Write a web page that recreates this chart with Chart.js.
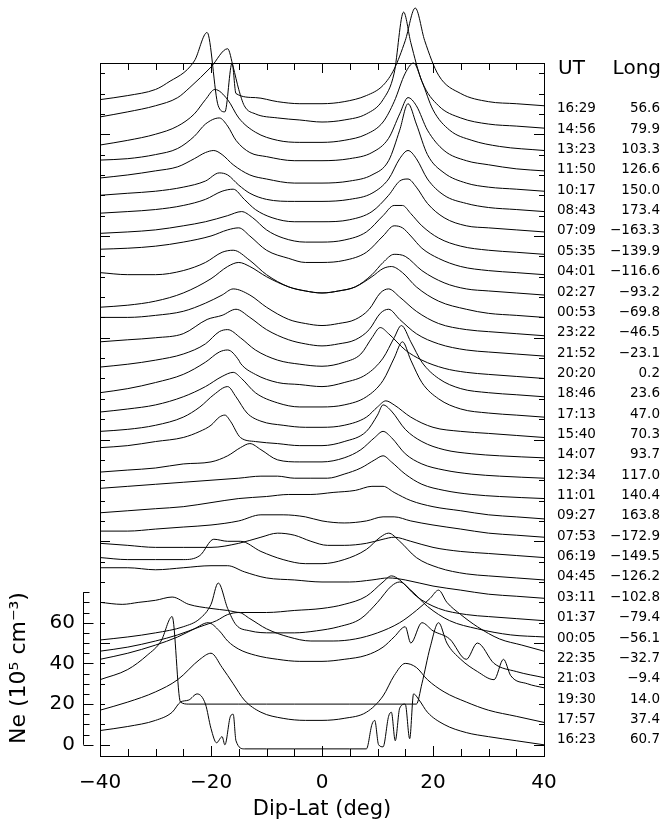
<!DOCTYPE html>
<html>
<head>
<meta charset="utf-8">
<script src="https://cdn.jsdelivr.net/npm/chart.js@4.4.1/dist/chart.umd.min.js"></script>
<style>
  html, body { margin: 0; padding: 0; background: #fff; }
  #wrap { width: 663px; height: 820px; }
</style>
</head>
<body>
<div id="wrap"><canvas id="chart" width="663" height="820"></canvas></div>
<script>
// Pass times and longitudes, bottom profile first
const utLabels = ['16:23', '17:57', '19:30', '21:03', '22:35', '00:05', '01:37', '03:11',
  '04:45', '06:19', '07:53', '09:27', '11:01', '12:34', '14:07', '15:40', '17:13', '18:46',
  '20:20', '21:52', '23:22', '00:53', '02:27', '04:01', '05:35', '07:09', '08:43', '10:17',
  '11:50', '13:23', '14:56', '16:29'];
const longLabels = ['60.7', '37.4', '14.0', '−9.4', '−32.7', '−56.1', '−79.4', '−102.8',
  '−126.2', '−149.5', '−172.9', '163.8', '140.4', '117.0', '93.7', '70.3', '47.0', '23.6',
  '0.2', '−23.1', '−46.5', '−69.8', '−93.2', '−116.6', '−139.9', '−163.3', '173.4', '150.0',
  '126.6', '103.3', '79.9', '56.6'];
const rowStep = 10;            // each profile is shifted up by 10 x 10^5 cm^-3
const neTicks = [0, 20, 40, 60];

// Ne profiles [dip-lat, Ne] (10^5 cm^-3)
const p1623 = [[-40,7],[-35,9],[-30,12],[-27,16],[-25.5,21],[-24,22],[-22.5,25],[-21,20],[-20,8],[-19,1],[-18,4],[-17.5,0],[-16.5,14],[-16,15],[-15.5,2],[-14,-2],[-10,-2],[-5,-2],[0,-2],[5,-2],[8,-2],[9,10],[9.5,12],[10.2,0],[11,-1],[12,14],[12.5,16],[13.2,2],[14,18],[15,20],[15.8,3],[16.5,25],[17.5,22],[19,16],[22,10],[26,6],[30,4],[35,2],[40,0]];
const p1757 = [[-40,7],[-35,11],[-30,16],[-26,22],[-22,32],[-20,35],[-18,28],[-16,20],[-14,12],[-11,6],[-7,3],[-3,2],[0,2],[4,3],[8,6],[11,14],[13,24],[15,30],[17,28],[19,22],[22,16],[26,11],[30,7],[35,4],[40,1]];
const p1930 = [[-40,12],[-35,17],[-31.5,24],[-29,31],[-27,43],[-25.5,1],[-24,0],[-20,0],[-15,0],[-10,0],[-5,0],[0,0],[5,0],[10,0],[15,0],[17,0],[18,10],[19.5,28],[21,40],[22.5,30],[25,22],[28,16],[31,12],[32.7,22],[34,14],[37,10],[40,8]];
const p2103 = [[-40,12],[-35,15],[-30,19],[-26,23],[-23,27],[-20.5,30],[-18.5,26],[-17,21],[-15,17],[-12,14],[-8,12],[-4,11],[0,11],[4,12],[8,14],[11,18],[13,23],[15,28],[16,20],[18,30],[20,26],[23,22],[26,12],[28,20],[31,10],[35,6],[40,3]];
const p2235 = [[-40,6],[-35,8],[-30,11],[-26,14],[-22,18],[-19,21],[-17,24],[-15,25],[-13,22],[-10,17],[-6,13],[-2,11],[2,11],[6,12],[10,15],[14,20],[17,26],[19.5,32],[21,36],[22.5,30],[25,24],[28,18],[32,12],[36,9],[40,6]];
const p0005 = [[-40,1.5],[-35,3],[-30,5],[-25,8],[-22,12],[-20,19],[-18.7,29.5],[-17,17],[-15.5,9],[-13,6],[-9,5],[-5,5],[-1,6],[3,8],[7,12],[10,20],[12.5,28],[14,30],[16,26],[19,18],[23,11],[28,7],[34,4],[40,3]];
const p0137 = [[-40,10],[-36,9],[-33,10],[-30,11],[-27,12.6],[-24,9],[-20,7],[-17,6],[-14.7,5],[-10,5],[-5,6],[0,7],[4,9],[8,13],[11,20],[12.5,23],[14,21],[17,13],[21,7],[26,4],[30,3],[35,2],[40,1]];
const p0311 = [[-40,17],[-35,17],[-30,16],[-25,17],[-20,18],[-17,18],[-14,15],[-10,12],[-5,11],[0,10],[5,10],[9,11],[12,12],[15,11],[20,8],[25,6],[30,4],[35,3],[40,2]];
const p0445 = [[-40,12],[-35,11],[-30,11],[-25,11],[-22,13],[-19.5,21],[-17,20],[-14.7,20],[-11,15],[-7,11],[-3,9],[0,9],[4,11],[8,16],[10.5,22],[12,24],[14,20],[17,12],[21,7],[26,4],[30,3],[35,2],[40,1]];
const p0619 = [[-40,9],[-35,8],[-30,7],[-25,7],[-20,7],[-15,9],[-11,12],[-8,14],[-5,13],[-2,10],[1,8],[4,8],[8,9],[11,11],[13,12],[16,10],[20,7],[25,5],[30,4],[35,3],[40,2]];
const p0753 = [[-40,5],[-35,5],[-30,6],[-25,7],[-20,8],[-15,10],[-11,13],[-7,13],[-3,12],[0,10],[4,9],[8,10],[11,12],[13,12],[16,10],[20,8],[25,6],[30,4],[35,3],[40,2]];
const p0927 = [[-40,4],[-35,5],[-30,6],[-25,7],[-20,9],[-15,11],[-10,12],[-6,13],[-2,13],[2,14],[6,15],[9,17],[11,17],[13,14],[16,10],[20,7],[25,5],[30,3],[35,2],[40,1]];
const p1101 = [[-40,6],[-35,7],[-30,8],[-25,9],[-20,10],[-15,11],[-11,12],[-8,12],[-5,11],[-2,11],[1,11],[4,13],[7,16],[9.5,20],[11,22],[12.5,19],[15,13],[18,8],[22,5],[27,3],[32,2],[40,1]];
const p1234 = [[-40,4],[-35,5],[-30,6],[-25,8],[-20,9],[-17,12],[-14.7,16],[-13,18],[-11,15],[-8,10],[-4,9],[0,9],[4,11],[7,15],[9.5,21],[11,24],[12.5,21],[15,13],[18,8],[22,5],[27,3],[32,2],[40,1]];
const p1407 = [[-40,6],[-35,7],[-30,9],[-25,11],[-22,14],[-20,17],[-18.5,21],[-17.5,22],[-16.5,19],[-14.7,11],[-12,9],[-8,8],[-4,7],[0,7],[4,9],[8,14],[10,22],[11,27],[12.5,24],[15,15],[18,9],[22,5],[27,3],[32,2],[40,1]];
const p1540 = [[-40,4],[-35,5],[-30,7],[-25,11],[-22,16],[-19.5,22],[-17,26],[-15.5,21],[-13.5,13],[-11,9],[-7,7],[-3,6],[0,6],[4,7],[8,11],[10,16],[11.5,19],[13,17],[16,11],[20,6],[25,4],[30,3],[35,2],[40,1]];
const p1713 = [[-40,3.5],[-35,5],[-30,7],[-25,11],[-21,16],[-18,21],[-16,23],[-14.5,20],[-12,13],[-8,8],[-4,6],[0,6],[4,7],[8,11],[11,19],[13,30],[14.5,38],[16,29],[18,18],[21,10],[25,5],[30,3],[35,2],[40,1]];
const p1846 = [[-40,3],[-35,5],[-30,8],[-25,12],[-21,18],[-18.5,23],[-17,24],[-15,19],[-14.7,17.5],[-12,12],[-8,8],[-4,7],[0,6],[4,8],[8,12],[11,20],[13,30],[14.3,36],[16,28],[18,18],[21,10],[25,5],[30,3],[35,2],[40,1]];
const p2020 = [[-40,5.6],[-35,7],[-30,9],[-25,12],[-21,17],[-18.5,23],[-17,24],[-14.7,20],[-12,14],[-8,9],[-4,7],[0,6],[4,8],[7,12],[9,20],[10.5,25],[12,22],[15,14],[18,9],[22,5],[26,3],[30,2],[35,1],[40,0]];
const p2152 = [[-40,8],[-35,9],[-30,10],[-25,12],[-20.7,19],[-18,21],[-15.5,24],[-13,20],[-10,14],[-6,9],[-3,7],[0,6],[3,7],[6,9],[8.5,14],[10.5,22],[12,24],[14,19],[17,12],[21,7],[26,4],[30,3],[35,2],[40,1]];
const p2322 = [[-40,10],[-35,10],[-30,11],[-25,13],[-21,17],[-18,21],[-16,24],[-13,21],[-10,15],[-6,9],[-3,7],[0,6],[3,7],[6,9],[8.5,14],[10.5,22],[12,24],[14,20],[17,13],[21,7],[26,4],[30,3],[35,2],[40,1]];
const p0053 = [[-40,5],[-35,6],[-30,8],[-25,12],[-20,19],[-17,25],[-15,27],[-13,25],[-10,20],[-6,15],[-3,13],[0,12],[3,13],[6,15],[9,20],[11,24],[12.5,25],[14.5,22],[17,15],[21,8],[26,4],[30,2],[35,1],[40,0]];
const p0227 = [[-40,12],[-35,11],[-30,11],[-25,13],[-21,17],[-18,22],[-16,23],[-13,18],[-10,11],[-6,5],[-3,3],[0,2],[3,3],[6,5],[9,11],[11,17],[13,21],[15,20],[18,13],[22,7],[26,4],[30,3],[35,2],[40,1]];
const p0401 = [[-40,13.5],[-35,14],[-30,15],[-25,17],[-20,20],[-17,23],[-15,24],[-13,20],[-10,13],[-6,9],[-3,7],[0,7],[4,8],[8,12],[11,20],[13,25],[14.5,24],[16,20],[18,14],[21,9],[25,5],[30,3],[35,2],[40,1]];
const p0535 = [[-40,11.3],[-35,12],[-30,13],[-25,15],[-21,17],[-17,20],[-14.5,22],[-12.5,19],[-10,13],[-7,9],[-3,7],[0,7],[4,8],[8,12],[11,20],[13,25],[14.5,25],[16,21],[18,15],[21,9],[25,5],[30,3],[35,2],[40,1]];
const p0709 = [[-40,11.2],[-35,12],[-30,13],[-25,15],[-21,18],[-18,22],[-16,23],[-14,18],[-12,13],[-9,9],[-5,7],[0,7],[5,8],[9,12],[12,20],[14,27],[15.5,28],[17,24],[19,16],[22,9],[26,5],[30,4],[35,3],[40,2]];
const p0843 = [[-40,10],[-35,11],[-30,12],[-25,14],[-21,17],[-18.5,21],[-17,20],[-15,15],[-13,11],[-10,8],[-5,7],[0,7],[5,8],[9,11],[12,18],[14,28],[15.5,32],[17,28],[19,18],[22,10],[26,6],[30,4],[35,3],[40,2]];
const p1017 = [[-40,8.5],[-35,10],[-30,12],[-26,14],[-23,18],[-21,21],[-19.5,22],[-18,20],[-16,15],[-13,10],[-10,8],[-5,6],[0,6],[5,7],[9,10],[12,17],[14,32],[15.5,45],[17,35],[19,20],[22,11],[26,6],[30,4],[35,3],[40,2]];
const p1150 = [[-40,7.3],[-35,8],[-30,10],[-26,13],[-23,19],[-21,25],[-18.5,28],[-17,24],[-15.5,17],[-13,11],[-10,9],[-5,7],[0,7],[5,8],[9,11],[12,18],[14,30],[15.5,38],[17,34],[19,22],[22,12],[26,7],[30,5],[35,3],[40,2]];
const p1323 = [[-40,4.7],[-35,7],[-30,10],[-26,14],[-23,20],[-21,27],[-19.3,32],[-17,27],[-15,18],[-12,11],[-8,7],[-4,6],[0,6],[4,7],[8,10],[11,16],[13,26],[15,40],[16.5,45],[18,36],[20,22],[23,12],[27,7],[32,4],[40,2]];
const p1456 = [[-40,8.5],[-35,11],[-30,14],[-26,18],[-23.8,23],[-20,33],[-17,42],[-16,33],[-15,22],[-14,14],[-12,10],[-8,8],[-4,7],[0,6],[4,7],[8,10],[11,17],[13,30],[14.7,60],[16,45],[18,26],[21,14],[25,8],[30,5],[35,4],[40,3]];
const p1629 = [[-40,7],[-35,9],[-30,12],[-28,15],[-23,26],[-20.7,40],[-18.7,4],[-17.5,1],[-16.2,25],[-15.5,10],[-12,8],[-8,6],[-4,5],[0,5],[4,6],[8,9],[11,14],[13,22],[15,36],[16.8,52],[18.5,36],[21,19],[25,10],[30,6],[35,5],[40,4]];

const profiles = [p1623, p1757, p1930, p2103, p2235, p0005, p0137, p0311, p0445, p0619,
  p0753, p0927, p1101, p1234, p1407, p1540, p1713, p1846, p2020, p2152, p2322, p0053,
  p0227, p0401, p0535, p0709, p0843, p1017, p1150, p1323, p1456, p1629];

const FONT = '"DejaVu Sans", sans-serif';

// stack the profiles, each one row higher than the one below
const datasets = profiles.map(function(prof, i) {
    return {
        label: utLabels[i],
        data: prof.map(function(pt) { return { x: pt[0], y: pt[1] + i * rowStep }; }),
        borderColor: '#000',
        borderWidth: 1,
        pointRadius: 0,
        cubicInterpolationMode: 'monotone',
        clip: false
    };
});

// box, inward ticks, Ne scale and the UT / Long column
const framePlugin = {
    id: 'frame',
    afterDatasetsDraw(chart) {
        const ctx = chart.ctx;
        const xs = chart.scales.x;
        const ys = chart.scales.y;
        const a = chart.chartArea;
        ctx.save();
        ctx.strokeStyle = '#000';
        ctx.lineWidth = 1;
        ctx.strokeRect(Math.round(a.left) + 0.5, Math.round(a.top) + 0.5,
            Math.round(a.right - a.left), Math.round(a.bottom - a.top));

        ctx.beginPath();
        for (let v = -40; v <= 40; v += 5) {
            const px = Math.round(xs.getPixelForValue(v)) + 0.5;
            const len = v % 20 === 0 ? 10 : 7;
            ctx.moveTo(px, a.bottom); ctx.lineTo(px, a.bottom - len);
            ctx.moveTo(px, a.top); ctx.lineTo(px, a.top + len);
        }
        for (let v = 0; v <= 330; v += rowStep) {
            const py = Math.round(ys.getPixelForValue(v)) + 0.5;
            const len = v % 50 === 0 ? 10 : 5;
            ctx.moveTo(a.left, py); ctx.lineTo(a.left + len, py);
            ctx.moveTo(a.right, py); ctx.lineTo(a.right - len, py);
        }
        // separate Ne axis on the left
        const ax = 83.5;
        ctx.moveTo(ax, ys.getPixelForValue(0));
        ctx.lineTo(ax, ys.getPixelForValue(75));
        for (let v = 0; v <= 75; v += 5) {
            const py = Math.round(ys.getPixelForValue(v)) + 0.5;
            const len = v % 20 === 0 ? 10 : 6;
            ctx.moveTo(ax, py); ctx.lineTo(ax + len, py);
        }
        ctx.stroke();

        ctx.fillStyle = '#000';
        ctx.font = '20px ' + FONT;
        ctx.textAlign = 'right';
        ctx.textBaseline = 'middle';
        neTicks.forEach(function(v) {
            ctx.fillText(String(v), 75, ys.getPixelForValue(v));
        });
        ctx.save();
        ctx.translate(19, 668);
        ctx.rotate(-Math.PI / 2);
        ctx.textAlign = 'center';
        ctx.font = '22px ' + FONT;
        ctx.fillText('Ne (10⁵ cm⁻³)', 0, 0);
        ctx.restore();

        // right hand column
        ctx.font = '20px ' + FONT;
        ctx.textAlign = 'left';
        ctx.fillText('UT', 558, 69);
        ctx.textAlign = 'right';
        ctx.fillText('Long', 661, 69);
        ctx.font = '13.5px ' + FONT;
        utLabels.forEach(function(ut, i) {
            const py = ys.getPixelForValue(i * rowStep) - 5;
            ctx.textAlign = 'left';
            ctx.fillText(ut, 557, py);
            ctx.textAlign = 'right';
            ctx.fillText(longLabels[i], 660, py);
        });
        ctx.restore();
    }
};

new Chart(document.getElementById('chart'), {
    type: 'line',
    data: { datasets: datasets },
    options: {
        responsive: false,
        animation: false,
        events: [],
        layout: { padding: { left: 0, right: 119, top: 63, bottom: 0 } },
        plugins: { legend: { display: false }, tooltip: { enabled: false } },
        scales: {
            x: {
                type: 'linear',
                min: -40,
                max: 40,
                afterFit: function(s) { s.height = 64; },
                grid: { display: false, drawTicks: false },
                border: { display: false },
                ticks: {
                    stepSize: 20,
                    padding: 15,
                    maxRotation: 0,
                    color: '#000',
                    font: { family: FONT, size: 20 },
                    callback: function(v) { return v < 0 ? '−' + Math.abs(v) : String(v); }
                },
                title: {
                    display: true,
                    text: 'Dip-Lat (deg)',
                    color: '#000',
                    padding: { top: 0, bottom: 0 },
                    font: { family: FONT, size: 21, lineHeight: 1 }
                }
            },
            y: {
                type: 'linear',
                min: -5.5,
                max: 335,
                afterFit: function(s) { s.width = 100; },
                grid: { display: false, drawTicks: false },
                border: { display: false },
                ticks: { display: false }
            }
        }
    },
    plugins: [framePlugin]
});
</script>
</body>
</html>
